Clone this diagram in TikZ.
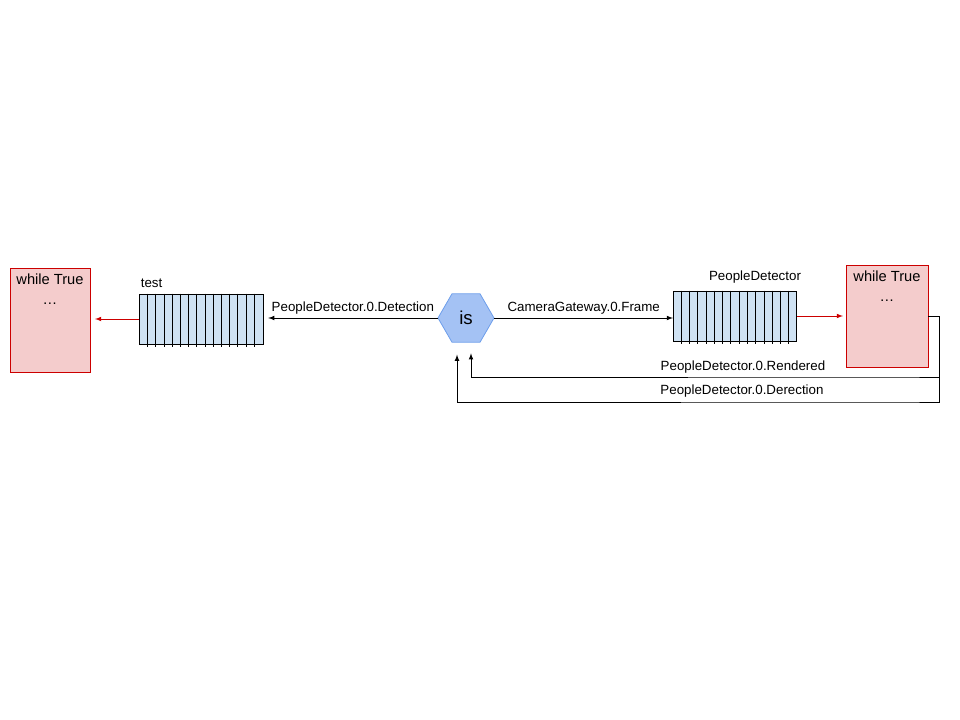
\documentclass[tikz,border=0pt]{standalone}
\usepackage{fontspec}
\setmainfont{Liberation Sans}
\usetikzlibrary{shapes.geometric}
\usetikzlibrary{arrows}
\usetikzlibrary{positioning}
\usetikzlibrary{calc}
\definecolor{loopfill}{HTML}{F4CCCC}
\definecolor{loopedge}{HTML}{CC0000}
\definecolor{queuefill}{HTML}{CFE2F3}
\definecolor{hexfill}{HTML}{A4C2F4}
\definecolor{hexedge}{HTML}{6D9EEB}
\definecolor{flowred}{HTML}{CC0000}

\begin{document}
\begin{tikzpicture}[x=0.75pt,y=-0.75pt,line width=0.6pt,font=\fontsize{10pt}{12pt}\selectfont]
\tikzstyle{loopbox} = [rectangle, draw=loopedge, fill=loopfill, minimum width=60pt, minimum height=78pt, inner sep=0pt]
\tikzstyle{queue} = [rectangle, draw=black, fill=queuefill, minimum width=92.5pt, minimum height=37.5pt, inner sep=0pt]
\tikzstyle{server} = [regular polygon, regular polygon sides=6, draw=hexedge, fill=hexfill, minimum size=42pt, inner sep=0pt, font=\fontsize{14pt}{16pt}\selectfont]
\tikzstyle{looptext} = [anchor=north, align=center, inner sep=0pt, font=\fontsize{11pt}{15pt}\selectfont]
\useasboundingbox (0,0) rectangle (960,720);
% loops and queues
\node [loopbox] (leftloop) at (50,320) {};
\node [looptext] at ($(leftloop.north)+(0,5.5)$) {while True\\…};
\node [queue] (testq) at (201.5,319) {};
\node [server] (is) at (466,318) {is};
\node [queue] (peopleq) at (735,316) {};
\node [loopbox, minimum width=61.5pt, minimum height=77pt] (rightloop) at (887,316.5) {};
\node [looptext] at ($(rightloop.north)+(0,5.5)$) {while True\\…};
% queue slots
\foreach \i in {1,...,14} {
  \draw ($(testq.north west)+(\i*8.2,0)$) -- ($(testq.south west)+(\i*8.2,3)$);
  \draw ($(peopleq.north west)+(\i*8.27,0)$) -- ($(peopleq.south west)+(\i*8.27,3)$);
}
\node [anchor=south west, inner sep=0pt] at ($(testq.north west)+(1,-6)$) {test};
\node [anchor=south, inner sep=0pt] at ($(peopleq.north)+(20,-7)$) {PeopleDetector};
% connectors
\draw[->,>=latex] (is.west) -- node [above=-0.5pt] {PeopleDetector.0.Detection} ([xshift=3.5pt]is.west -| testq.east);
\draw[->,>=latex] (is.east) -- node [above=-0.5pt] {CameraGateway.0.Frame} (is.east -| peopleq.west);
\draw[->,>=latex,draw=flowred,shorten >=3.5pt] (testq.west) -- (testq.west -| leftloop.east);
\draw[->,>=latex,draw=flowred,shorten >=2pt] (peopleq.east) -- (peopleq.east -| rightloop.west);
\coordinate (turn) at (939,316.5);
\draw[->,>=latex,shorten >=8pt] (rightloop.east) -- (turn) |- (900,377) -| ($(is.south)+(5,0)$);
\draw[->,>=latex,shorten >=9pt] (turn) |- (900,402) -| ($(is.south)+(-9,0)$);
\node at (743,367) {PeopleDetector.0.Rendered};
\node at (742,391) {PeopleDetector.0.Derection};
\end{tikzpicture}
\end{document}
